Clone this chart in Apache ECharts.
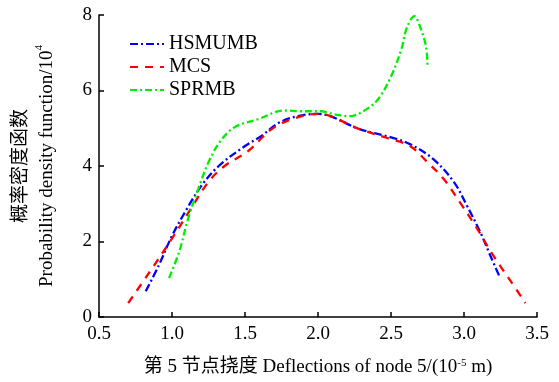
<!DOCTYPE html>
<html>
<head>
<meta charset="utf-8">
<script src="https://cdn.jsdelivr.net/npm/echarts@6/dist/echarts.min.js"></script>
<style>
    html, body { margin: 0; padding: 0; background: #fff; }
    #chart { width: 559px; height: 382px; }
</style>
</head>
<body>
<div id="chart"></div>
<script>
// [deflection (1e-5 m), pdf (1e4)]
const hsmumbData = [
    [0.82, 0.68], [0.91, 1.37], [1.0, 2.15], [1.1, 2.85], [1.2, 3.47], [1.32, 4.0],
    [1.5, 4.53], [1.61, 4.79], [1.73, 5.14], [1.86, 5.32], [2.0, 5.38], [2.29, 4.97],
    [2.5, 4.76], [2.63, 4.58], [2.79, 4.18], [2.93, 3.58], [3.02, 2.95], [3.11, 2.26],
    [3.18, 1.63], [3.24, 1.1]
];
const mcsData = [
    [0.7, 0.37], [0.85, 1.21], [1.0, 2.08], [1.13, 2.87], [1.25, 3.58], [1.36, 4.0],
    [1.52, 4.39], [1.68, 4.97], [1.82, 5.24], [2.0, 5.38], [2.29, 4.97], [2.5, 4.71],
    [2.63, 4.53], [2.75, 4.1], [2.86, 3.66], [2.97, 3.05], [3.09, 2.34], [3.2, 1.63],
    [3.32, 0.95], [3.42, 0.37]
];
const sprmbData = [
    [0.98, 1.03], [1.05, 1.74], [1.11, 2.6], [1.18, 3.39], [1.25, 4.1], [1.33, 4.65],
    [1.43, 5.03], [1.59, 5.24], [1.77, 5.47], [1.88, 5.45], [2.02, 5.45], [2.11, 5.37],
    [2.22, 5.32], [2.31, 5.45], [2.41, 5.76], [2.5, 6.37], [2.57, 7.08], [2.61, 7.68],
    [2.66, 7.97], [2.7, 7.68], [2.74, 7.16], [2.75, 6.68]
];
const seriesNames = ['HSMUMB', 'MCS', 'SPRMB'];

const font = "'Liberation Serif', 'Times New Roman', 'Noto Sans CJK SC', serif";

const lineSeries = (name, data, color, dash) => ({
    name: name,
    type: 'line',
    data: data,
    smooth: 0.35,
    symbol: 'none',
    lineStyle: { color: color, width: 2.3, type: dash },
    itemStyle: { color: color }
});

const option = {
    animation: false,
    backgroundColor: '#fff',
    textStyle: { fontFamily: font },
    grid: { left: 97, right: 22, top: 15, bottom: 62 },
    legend: {
        orient: 'vertical',
        left: 124,
        top: 29,
        itemWidth: 34,
        itemHeight: 10,
        itemGap: 3,
        data: seriesNames,
        itemStyle: { opacity: 0 },
        textStyle: { fontFamily: font, fontSize: 20, color: '#000' }
    },
    xAxis: {
        type: 'value',
        min: 0.5,
        max: 3.5,
        interval: 0.5,
        name: '第 5 节点挠度 Deflections of node 5/(10{sup|-5} m)',
        nameLocation: 'middle',
        nameGap: 41,
        nameTextStyle: {
            fontFamily: font, fontSize: 19, color: '#000',
            rich: { sup: { fontFamily: font, fontSize: 11, color: '#000', verticalAlign: 'top', padding: [0, 0, 8, 0] } }
        },
        axisLine: { lineStyle: { color: '#000', width: 1.5 } },
        axisTick: { inside: true, length: 5, lineStyle: { color: '#000', width: 1.5 } },
        axisLabel: { fontFamily: font, fontSize: 19, color: '#000', margin: 8, formatter: v => v.toFixed(1) },
        splitLine: { show: false }
    },
    yAxis: {
        type: 'value',
        min: 0,
        max: 8,
        interval: 2,
        name: '概率密度函数\nProbability density function/10{sup|4}',
        nameLocation: 'middle',
        nameRotate: 90,
        nameGap: 39,
        nameTextStyle: {
            fontFamily: font, fontSize: 19, color: '#000', lineHeight: 26,
            rich: { sup: { fontFamily: font, fontSize: 11, color: '#000', lineHeight: 26, verticalAlign: 'top', padding: [0, 0, 8, 0] } }
        },
        axisLine: { show: true, lineStyle: { color: '#000', width: 1.5 } },
        axisTick: { show: true, inside: true, length: 5, lineStyle: { color: '#000', width: 1.5 } },
        axisLabel: { fontFamily: font, fontSize: 19, color: '#000', margin: 7 },
        splitLine: { show: false }
    },
    series: [
        lineSeries(seriesNames[0], hsmumbData, '#0000ff', [8, 3, 2, 3]),
        lineSeries(seriesNames[1], mcsData, '#ff0000', [8, 7]),
        lineSeries(seriesNames[2], sprmbData, '#00ee00', [7, 3, 2, 3])
    ]
};

const chart = echarts.init(document.getElementById('chart'), null, { renderer: 'canvas' });
chart.setOption(option);
</script>
</body>
</html>
